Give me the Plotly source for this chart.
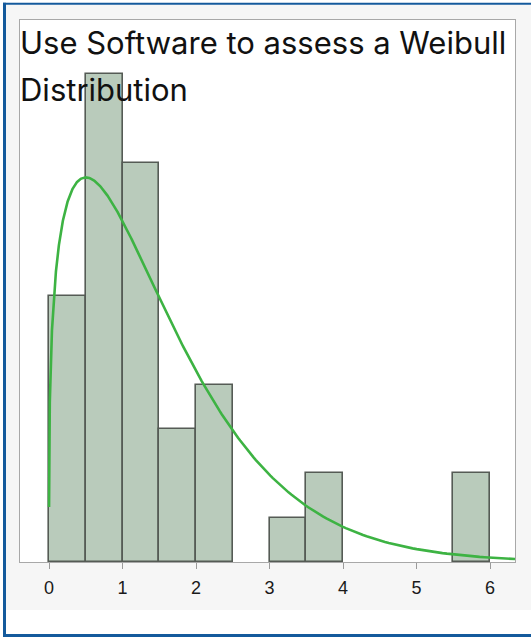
import numpy as np
import plotly.graph_objects as go

# Histogram bins (left edges, width 0.5) and their counts
bin_left = [0.0, 0.5, 1.0, 1.5, 2.0, 2.5, 3.0, 3.5, 4.0, 4.5, 5.0, 5.5]
counts = [6, 11, 9, 3, 4, 0, 1, 2, 0, 0, 0, 2]
bin_width = 0.5

# Fitted Weibull parameters
weibull_shape = 1.285
weibull_scale = 1.615

tick_values = [0, 1, 2, 3, 4, 5, 6]
title_lines = ["Use Software to assess a Weibull", "Distribution"]

W, H = 531, 637
M_L, M_R, M_T, M_B = 20, 16, 20, 75
PW, PH = W - M_L - M_R, H - M_T - M_B


def px_x(px):
    return (px - M_L) / PW


def px_y(py):
    return (H - M_B - py) / PH


n_obs = sum(counts)
bars = [(l + bin_width / 2, c) for l, c in zip(bin_left, counts) if c > 0]

x_curve = np.geomspace(2.5e-4, 6.34, 900)
u = x_curve / weibull_scale
pdf = (weibull_shape / weibull_scale) * u ** (weibull_shape - 1) * np.exp(-u ** weibull_shape)
y_curve = n_obs * bin_width * pdf

fig = go.Figure()
fig.add_trace(go.Bar(
    x=[b[0] for b in bars],
    y=[b[1] for b in bars],
    width=bin_width,
    marker=dict(color="#b9cbbb", line=dict(color="#555b55", width=1.6)),
    hoverinfo="skip",
))
fig.add_trace(go.Scatter(
    x=x_curve, y=y_curve, mode="lines",
    line=dict(color="#3db343", width=2.6),
    hoverinfo="skip",
))

shapes = [
    # light grey frame panel
    dict(type="rect", xref="paper", yref="paper", layer="below",
         x0=px_x(6), x1=px_x(531), y0=px_y(610), y1=px_y(5),
         fillcolor="#f6f6f6", line=dict(width=0)),
    # white plotting area
    dict(type="rect", xref="paper", yref="paper", layer="below",
         x0=0, x1=1, y0=0, y1=1,
         fillcolor="#ffffff", line=dict(width=0)),
    # blue outer border
    dict(type="line", xref="paper", yref="paper",
         x0=px_x(4.5), x1=px_x(4.5), y0=px_y(637), y1=px_y(2.7),
         line=dict(color="#145a9c", width=3)),
    dict(type="line", xref="paper", yref="paper",
         x0=px_x(3), x1=px_x(531), y0=px_y(3.7), y1=px_y(3.7),
         line=dict(color="#145a9c", width=2)),
    dict(type="line", xref="paper", yref="paper",
         x0=px_x(3), x1=px_x(531), y0=px_y(635.5), y1=px_y(635.5),
         line=dict(color="#145a9c", width=3)),
]

title_font = dict(family="Inter", size=31, color="#111111")
annotations = [
    dict(text=title_lines[0], xref="paper", yref="paper",
         x=px_x(18), y=px_y(42), xanchor="left", yanchor="middle",
         showarrow=False, font=title_font),
    dict(text=title_lines[1], xref="paper", yref="paper",
         x=px_x(18), y=px_y(89), xanchor="left", yanchor="middle",
         showarrow=False, font=title_font),
]

fig.update_layout(
    width=W, height=H,
    margin=dict(l=M_L, r=M_R, t=M_T, b=M_B, pad=0),
    paper_bgcolor="#ffffff",
    plot_bgcolor="rgba(0,0,0,0)",
    showlegend=False,
    bargap=0,
    shapes=shapes,
    annotations=annotations,
    xaxis=dict(
        range=[-0.395, 6.34],
        tickvals=tick_values,
        ticktext=[str(v) for v in tick_values],
        ticks="outside", ticklen=6, tickwidth=1, tickcolor="#9a9a9a",
        ticklabelstandoff=3,
        showline=True, linecolor="#a8a8a8", linewidth=1, mirror=True,
        showgrid=False, zeroline=False,
        tickfont=dict(family="Liberation Sans", size=18, color="#1a1a1a"),
    ),
    yaxis=dict(
        range=[0, 12.22],
        showticklabels=False, ticks="",
        showline=True, linecolor="#a8a8a8", linewidth=1, mirror=True,
        showgrid=False, zeroline=False,
    ),
)

fig.write_html("out.html")
